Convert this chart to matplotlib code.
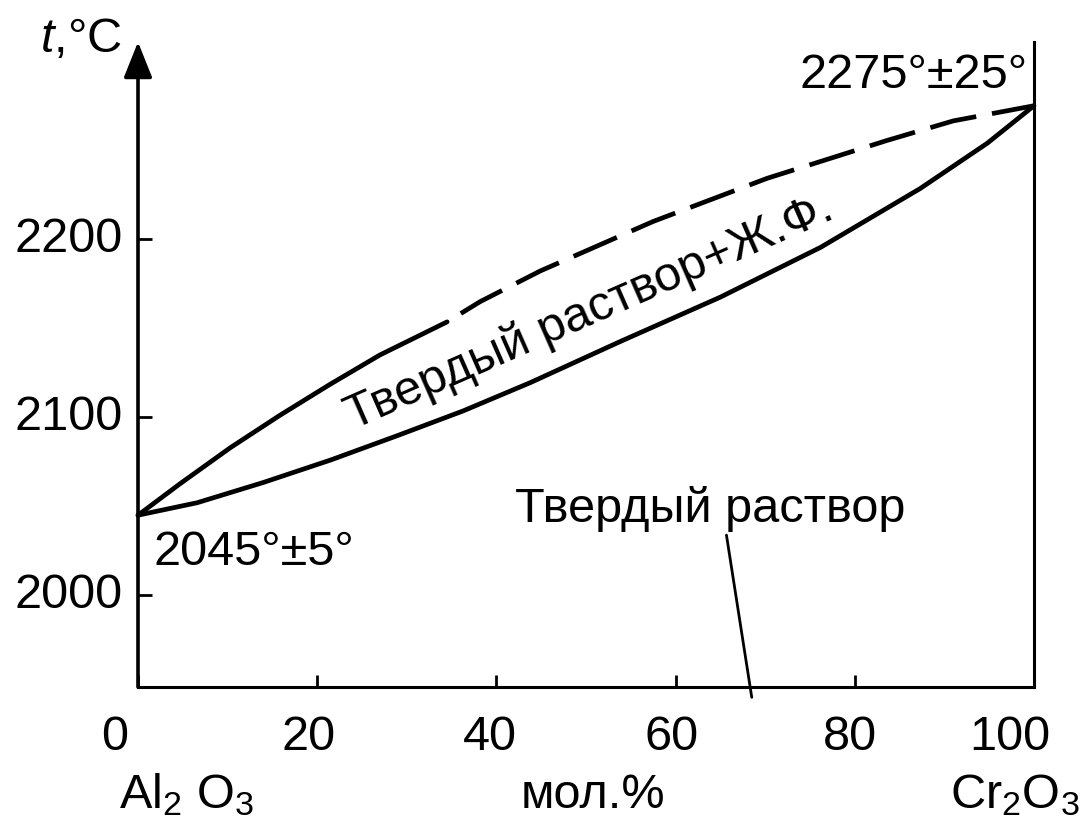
import matplotlib
matplotlib.use("Agg")
import matplotlib.pyplot as plt
import matplotlib.transforms as mtransforms

# Al2O3 – Cr2O3 phase diagram (mol.% Cr2O3 vs temperature, °C)
liquidus_x = [0, 4.7, 10.3, 15.8, 21.4, 27.0, 34.5, 38.2, 44.9, 57.5, 70.2, 83.6, 91.0, 100]
liquidus_t = [2045, 2062.7, 2082.9, 2101, 2118.4, 2135.0, 2153.6, 2165.0, 2182.2,
              2210, 2234.2, 2255.5, 2266.5, 2275]
liquidus_dash_from = 34.5  # beyond this composition the liquidus is uncertain (dashed)

solidus_x = [0, 6.6, 14.0, 21.5, 28.9, 36.3, 43.8, 53.8, 65.0, 76.2, 87.3, 94.8, 100]
solidus_t = [2045, 2052.0, 2063.4, 2076.0, 2089.6, 2103.6, 2119.5, 2142.5, 2167.5,
             2195.5, 2228.5, 2254, 2275]

x_ticks = [0, 20, 40, 60, 80, 100]
y_ticks = [2000, 2100, 2200]
melt_al2o3 = (2045, 5)
melt_cr2o3 = (2275, 25)

plt.rcParams['font.family'] = ['Liberation Sans', 'DejaVu Sans']
plt.rcParams['mathtext.fontset'] = 'custom'
plt.rcParams['mathtext.rm'] = 'Liberation Sans'
plt.rcParams['mathtext.it'] = 'Liberation Sans:italic'

FS = 35
LW = 3.4
fig = plt.figure(figsize=(10.8, 8.19), dpi=100)
ax = fig.add_axes([138 / 1080, 132 / 819, 896 / 1080, 645 / 819])
ax.set_xlim(0, 100)
ax.set_ylim(1948.5, 2310.8)

# frame: bottom axis, right border at 100 %, arrowed temperature axis
ax.spines['top'].set_visible(False)
ax.spines['left'].set_visible(False)
ax.spines['bottom'].set_linewidth(2.2)
ax.spines['right'].set_linewidth(2.2)
ax.annotate('', xy=(0, 1), xytext=(0, 0), xycoords='axes fraction',
            textcoords='axes fraction',
            arrowprops=dict(arrowstyle='-|>,head_length=0.55,head_width=0.22',
                            mutation_scale=40, lw=2.6, color='black',
                            shrinkA=0, shrinkB=0))

# liquidus: solid part, then dashed part
solid_idx = [i for i, v in enumerate(liquidus_x) if v <= liquidus_dash_from]
dash_idx = [i for i, v in enumerate(liquidus_x) if v >= liquidus_dash_from]
ax.plot([liquidus_x[i] for i in solid_idx], [liquidus_t[i] for i in solid_idx],
        color='black', lw=LW, solid_capstyle='round', solid_joinstyle='round',
        clip_on=False)
ax.plot([liquidus_x[i] for i in dash_idx], [liquidus_t[i] for i in dash_idx],
        color='black', lw=LW, linestyle=(10.0, (10.0, 3.4)), dash_capstyle='butt',
        clip_on=False)
# solidus
ax.plot(solidus_x, solidus_t, color='black', lw=LW, solid_capstyle='round',
        solid_joinstyle='round', clip_on=False)

# ticks
ax.set_xticks(x_ticks)
ax.set_xticklabels([str(v) for v in x_ticks], fontsize=FS)
ax.set_yticks(y_ticks)
ax.set_yticklabels([str(v) for v in y_ticks], fontsize=FS)
ax.tick_params(axis='x', direction='in', length=9, width=2, pad=20)
ax.tick_params(axis='y', direction='in', length=10, width=2, pad=11)
ax.tick_params(top=False, right=False)

x_shift_px = [-23, -9, -7, -4, -5, -24]
for lab, dx in zip(ax.get_xticklabels(), x_shift_px):
    lab.set_transform(lab.get_transform() +
                      mtransforms.ScaledTranslation(dx / 100, 0, fig.dpi_scale_trans))
for lab in ax.get_yticklabels():
    lab.set_transform(lab.get_transform() +
                      mtransforms.ScaledTranslation(0, 5 / 100, fig.dpi_scale_trans))

# axis captions
ax.text(-6.4, 2312, r'$t$,°C', fontsize=FS, ha='center', va='center', clip_on=False)
ax.set_xlabel('мол.%', fontsize=FS)
ax.xaxis.set_label_coords(0.508, -0.188)
ax.xaxis.label.set_va('baseline')
ax.text(0.054, -0.188, r'Al$_2$ O$_3$', fontsize=FS, ha='center', va='baseline',
        transform=ax.transAxes)
ax.text(0.979, -0.188, r'Cr$_2$O$_3$', fontsize=FS, ha='center', va='baseline',
        transform=ax.transAxes)

# melting points of the pure oxides
ax.text(1.7, 2024, f'{melt_al2o3[0]}°±{melt_al2o3[1]}°', fontsize=FS,
        ha='left', va='center')
ax.text(99.3, 2292, f'{melt_cr2o3[0]}°±{melt_cr2o3[1]}°', fontsize=FS,
        ha='right', va='center', clip_on=False)

# phase fields
ax.text(50.4, 2159, 'Твердый раствор+Ж.Ф.', fontsize=FS, rotation=23.7,
        rotation_mode='anchor', ha='center', va='center')
ax.annotate('Твердый раствор', xy=(68.5, 1942.7), xytext=(42.1, 2041),
            fontsize=FS, ha='left', va='baseline', annotation_clip=False,
            arrowprops=dict(arrowstyle='-', lw=2.0, color='black',
                            relpos=(0.54, 0.0), shrinkA=0, shrinkB=0))

fig.savefig('out.png', dpi=100)
